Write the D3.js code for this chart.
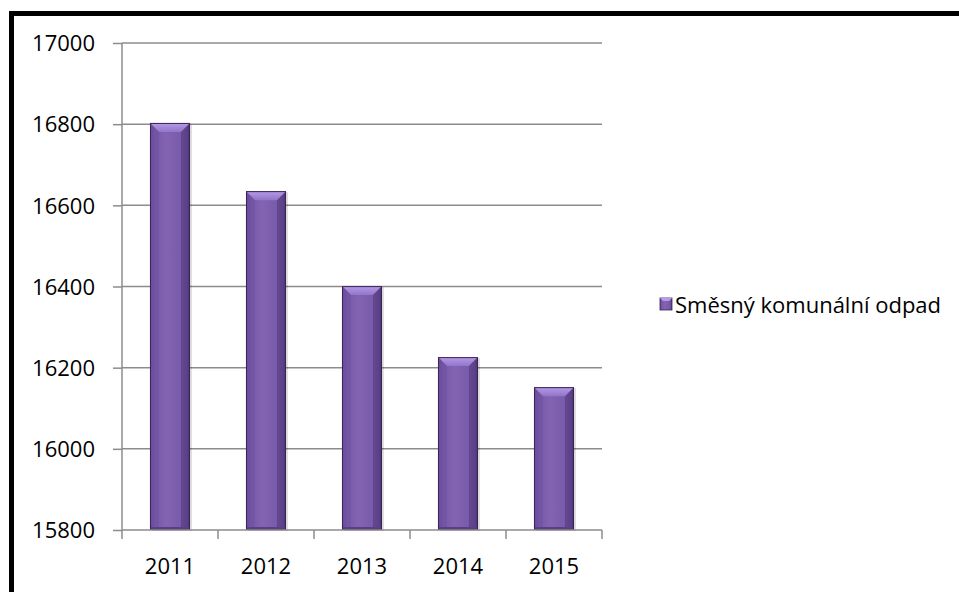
<!DOCTYPE html>
<html><head><meta charset="utf-8">
<script src="https://cdn.jsdelivr.net/npm/d3@7"></script>
<style>body{margin:0;background:#fff}svg{display:block}text{font-family:"Open Sans",sans-serif;fill:#000}</style>
</head><body>
<script>
const years = ["2011","2012","2013","2014","2015"];
const values = [16803, 16635, 16401, 16226, 16152];
const yTicks = [15800,16000,16200,16400,16600,16800,17000];
const seriesName = "Směsný komunální odpad";

const W = 959, H = 592;
const svg = d3.select("body").append("svg").attr("width", W).attr("height", H);
const defs = svg.append("defs");

const face = defs.append("linearGradient").attr("id","face").attr("x1","0").attr("x2","1").attr("y1","0").attr("y2","0");
[[0,"#5f4490"],[0.12,"#7657a8"],[0.4,"#8264b3"],[0.75,"#7a5bab"],[0.92,"#6a4d9a"],[1,"#4a326e"]].forEach(s=>face.append("stop").attr("offset",s[0]).attr("stop-color",s[1]));
const topG = defs.append("linearGradient").attr("id","topg").attr("x1","0").attr("x2","0").attr("y1","0").attr("y2","1");
[[0,"#b59be8"],[1,"#9176c9"]].forEach(s=>topG.append("stop").attr("offset",s[0]).attr("stop-color",s[1]));

// frame
svg.append("rect").attr("x",11.5).attr("y",13.5).attr("width",1000).attr("height",700)
  .attr("fill","none").attr("stroke","#000").attr("stroke-width",5);

const x = d3.scaleBand().domain(years).range([122,602]).paddingInner(0.583).paddingOuter(0.2915);
const y = d3.scaleLinear().domain([15800,17000]).range([530,43]);

// gridlines
svg.append("g").selectAll("line").data(yTicks.slice(1)).join("line")
  .attr("x1",122).attr("x2",602).attr("y1",d=>y(d)).attr("y2",d=>y(d))
  .attr("stroke","#8c8c8c").attr("stroke-width",1.5);

// y axis
const ya = svg.append("g").attr("transform","translate(122,0)")
  .call(d3.axisLeft(y).tickValues(yTicks).tickSize(9).tickPadding(18).tickFormat(d3.format("d")));
ya.selectAll("line").attr("stroke","#8c8c8c").attr("stroke-width",1.5);
ya.select(".domain").attr("stroke","#8c8c8c").attr("stroke-width",1.5).attr("d","M0,43V530");
ya.selectAll("text").attr("font-size",22).attr("font-family","Open Sans").attr("fill","#000").attr("dy","0.35em");

// bars
const bev = 9;
const g = svg.append("g");
years.forEach((yr,i)=>{
  const bx = x(yr), bw = x.bandwidth(), by = y(values[i]), bh = y(15800)-y(values[i]);
  const b = g.append("g");
  b.append("rect").attr("x",bx+2).attr("y",by+1).attr("width",bw).attr("height",bh).attr("fill","#000").attr("opacity",0.12);
  b.append("rect").attr("x",bx).attr("y",by).attr("width",bw).attr("height",bh).attr("fill","url(#face)");
  b.append("path").attr("d",`M${bx},${by}H${bx+bw}L${bx+bw-bev},${by+bev}H${bx+bev}Z`).attr("fill","url(#topg)");
  b.append("path").attr("d",`M${bx},${by}L${bx+bev},${by+bev}V${by+bh-3}L${bx},${by+bh}Z`).attr("fill","#6f50a0").attr("opacity",0.5);
  b.append("path").attr("d",`M${bx+bw},${by}L${bx+bw-bev},${by+bev}V${by+bh-3}L${bx+bw},${by+bh}Z`).attr("fill","#4f3578").attr("opacity",0.5);
  b.append("rect").attr("x",bx).attr("y",by+bh-3).attr("width",bw).attr("height",3).attr("fill","#5a3f85");
  b.append("rect").attr("x",bx+0.5).attr("y",by+0.5).attr("width",bw-1).attr("height",bh-1)
    .attr("fill","none").attr("stroke","#3a2557").attr("stroke-width",1);
});

// x axis
const xa = svg.append("g").attr("transform","translate(0,530)");
xa.append("line").attr("x1",122).attr("x2",602).attr("stroke","#8c8c8c").attr("stroke-width",1.5);
const xt = d3.range(years.length+1).map(i=>122+i*x.step());
xa.selectAll(".tk").data(xt).join("line").attr("class","tk").attr("x1",d=>d).attr("x2",d=>d).attr("y1",0).attr("y2",9)
  .attr("stroke","#8c8c8c").attr("stroke-width",1.5);
xa.selectAll("text").data(years).join("text").attr("x",d=>x(d)+x.bandwidth()/2).attr("y",36)
  .attr("text-anchor","middle").attr("font-size",22).attr("dy","0.35em").text(d=>d);

// legend
const lg = svg.append("g").attr("transform","translate(660,298)");
lg.append("rect").attr("width",12).attr("height",12).attr("fill","url(#face)").attr("stroke","#3a2557").attr("stroke-width",0.8);
lg.append("path").attr("d","M0,0H12L9,3H3Z").attr("fill","#b59be8");
lg.append("text").attr("x",15).attr("y",7).attr("dy","0.35em").attr("font-size",22).text(seriesName);
</script>
</body></html>
